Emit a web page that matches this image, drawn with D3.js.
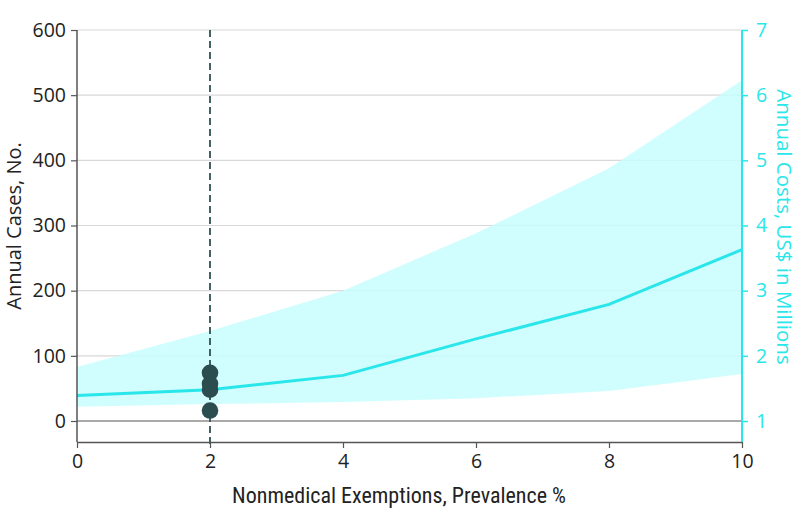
<!DOCTYPE html>
<html><head><meta charset="utf-8">
<script src="https://cdn.jsdelivr.net/npm/d3@7"></script>
<style>
body{margin:0;background:#fff;}
svg{display:block;}
.tick text{font-family:"Open Sans","Noto Sans",sans-serif;}
</style></head>
<body>
<svg id="c" width="798" height="528"></svg>
<script>
const prevalence = [0, 2, 4, 6, 8, 10];
const costMean = [1.39, 1.48, 1.70, 2.26, 2.79, 3.63];
const costUpper = [1.83, 2.38, 3.00, 3.88, 4.88, 6.23];
const costLower = [1.22, 1.26, 1.29, 1.35, 1.46, 1.72];
const observedX = [2, 2, 2, 2];
const observedCases = [74, 57, 48, 16];
const xTicks = [0, 2, 4, 6, 8, 10];
const leftTicks = [0, 100, 200, 300, 400, 500, 600];
const rightTicks = [1, 2, 3, 4, 5, 6, 7];

const svg = d3.select("#c");
const L = 77, R = 742, T = 30, B = 442;
const x = d3.scaleLinear().domain([0, 10]).range([L, R]);
const yL = d3.scaleLinear().domain([0, 600]).range([421, 30]);
const yR = d3.scaleLinear().domain([1, 7]).range([421, 30]);
const cyan = "#29e6ea";
const dark = "#2b4d4f";

// gridlines
svg.append("g").selectAll("line").data(leftTicks.filter(d => d > 0)).join("line")
  .attr("x1", L).attr("x2", R).attr("y1", d => yL(d)).attr("y2", d => yL(d))
  .attr("stroke", "#d8d8d8").attr("stroke-width", 1.2);

// band
const band = prevalence.map((p, i) => ({p, lo: costLower[i], hi: costUpper[i]}));
svg.append("path").datum(band)
  .attr("d", d3.area().x(d => x(d.p)).y0(d => yR(d.lo)).y1(d => yR(d.hi)))
  .attr("fill", "#c8fdfd").attr("fill-opacity", 0.85);

// zero line
svg.append("line").attr("x1", L).attr("x2", R).attr("y1", yL(0)).attr("y2", yL(0))
  .attr("stroke", "#555").attr("stroke-width", 1.2);

// mean line
svg.append("path").datum(prevalence.map((p, i) => ({p, v: costMean[i]})))
  .attr("d", d3.line().x(d => x(d.p)).y(d => yR(d.v)))
  .attr("fill", "none").attr("stroke", cyan).attr("stroke-width", 3);

// dashed vertical line
svg.append("line").attr("x1", x(2)).attr("x2", x(2)).attr("y1", T).attr("y2", B + 6)
  .attr("stroke", "#2f5253").attr("stroke-width", 1.8).attr("stroke-dasharray", "7,4");

// observed dots
svg.append("g").selectAll("circle").data(observedCases.map((v, i) => ({x: observedX[i], v})))
  .join("circle").attr("cx", d => x(d.x)).attr("cy", d => yL(d.v)).attr("r", 8.3)
  .attr("fill", dark);

// axes
const fs = "19.5px";
const gx = svg.append("g").attr("transform", `translate(0,${B})`)
  .call(d3.axisBottom(x).tickValues(xTicks).tickSize(6).tickPadding(6).tickSizeOuter(0));
gx.select(".domain").attr("stroke", "#555").attr("stroke-width", 1.5);
gx.selectAll(".tick line").attr("stroke", "#555").attr("stroke-width", 1.2);
gx.selectAll("text").attr("font-size", fs).attr("fill", "#222");

const gl = svg.append("g").attr("transform", `translate(${L},0)`)
  .call(d3.axisLeft(yL).tickValues(leftTicks).tickSize(6).tickPadding(5).tickSizeOuter(0));
gl.select(".domain").attr("d", `M0,${T}V${B}`).attr("stroke", "#555").attr("stroke-width", 1.5);
gl.selectAll(".tick line").attr("stroke", "#555").attr("stroke-width", 1.2);
gl.selectAll("text").attr("font-size", fs).attr("fill", "#222");

const gr = svg.append("g").attr("transform", `translate(${R},0)`)
  .call(d3.axisRight(yR).tickValues(rightTicks).tickFormat(d3.format("d")).tickSize(6).tickPadding(8).tickSizeOuter(0));
gr.select(".domain").attr("d", `M0,${T}V${B}`).attr("stroke", cyan).attr("stroke-width", 2);
gr.selectAll(".tick line").attr("stroke", cyan).attr("stroke-width", 1.5);
gr.selectAll("text").attr("font-size", fs).attr("fill", cyan);

// titles
svg.append("text").attr("x", 399).attr("y", 503).attr("text-anchor", "middle")
  .attr("font-family", "'Liberation Sans Narrow','Roboto Condensed','Open Sans',sans-serif")
  .attr("font-size", "22px").attr("fill", "#222")
  .text("Nonmedical Exemptions, Prevalence %");
svg.append("text").attr("transform", "translate(21,226) rotate(-90)").attr("text-anchor", "middle")
  .attr("font-family", "'Open Sans','Noto Sans',sans-serif").attr("font-size", "20px").attr("fill", "#222")
  .text("Annual Cases, No.");
svg.append("text").attr("transform", "translate(777,227) rotate(90)").attr("text-anchor", "middle")
  .attr("font-family", "'Open Sans','Noto Sans',sans-serif").attr("font-size", "20.5px").attr("fill", cyan)
  .text("Annual Costs, US$ in Millions");
</script>
</body></html>
